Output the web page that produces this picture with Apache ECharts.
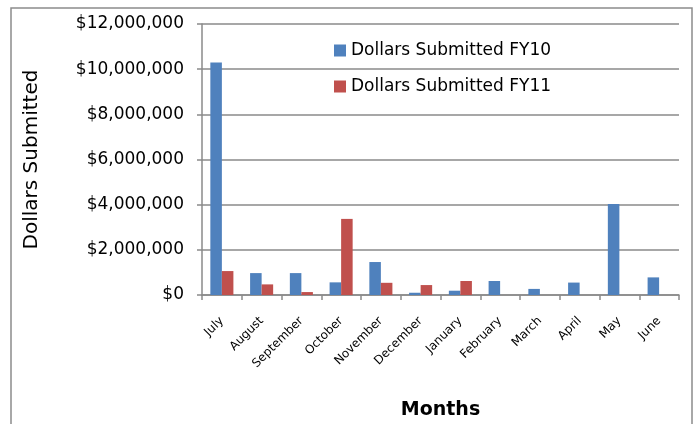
<!DOCTYPE html>
<html>
<head>
<meta charset="utf-8">
<script src="https://cdn.jsdelivr.net/npm/echarts@6/dist/echarts.min.js"></script>
<style>
  html, body { margin: 0; padding: 0; background: #fff; }
  #chart { width: 696px; height: 424px; }
</style>
</head>
<body>
<div id="chart"></div>
<script>
// months of the fiscal year
const months = ['July', 'August', 'September', 'October', 'November', 'December',
  'January', 'February', 'March', 'April', 'May', 'June'];

// dollars submitted
const fy10 = [10300000, 970000, 970000, 560000, 1460000, 100000,
  190000, 620000, 270000, 550000, 4030000, 780000];
const fy11 = [1060000, 470000, 130000, 3370000, 540000, 440000,
  620000, 0, 0, 0, 0, 0];

const yTicks = { min: 0, max: 12000000, interval: 2000000 };

const font = 'DejaVu Sans';
const gray = '#8a8a8a';

const chart = echarts.init(document.getElementById('chart'));

const fmt = v => '$' + v.toLocaleString('en-US');

chart.setOption({
  animation: false,
  textStyle: { fontFamily: font, color: '#000' },
  graphic: [{
    type: 'rect',
    shape: { x: 11, y: 8, width: 681, height: 430 },
    style: { fill: 'none', stroke: '#8c8c8c', lineWidth: 1.5 },
    silent: true
  }],
  legend: {
    orient: 'vertical',
    left: 329,
    top: 37,
    itemWidth: 12,
    itemHeight: 12,
    itemGap: 19,
    icon: 'rect',
    textStyle: { fontFamily: font, fontSize: 17, color: '#000' },
    data: ['Dollars Submitted FY10', 'Dollars Submitted FY11']
  },
  grid: { left: 202, right: 17, top: 24, bottom: 129, outerBoundsMode: 'none', containLabel: false },
  xAxis: {
    type: 'category',
    data: months,
    name: 'Months',
    nameLocation: 'middle',
    nameGap: 106,
    nameTextStyle: { fontFamily: font, fontSize: 19, fontWeight: 'bold', color: '#000' },
    axisLine: { lineStyle: { color: gray, width: 1.5 } },
    axisTick: { show: true, length: 5, lineStyle: { color: gray, width: 1.5 } },
    axisLabel: { rotate: 45, margin: 24, fontSize: 12, color: '#000', interval: 0 }
  },
  yAxis: {
    type: 'value',
    min: yTicks.min,
    max: yTicks.max,
    interval: yTicks.interval,
    name: 'Dollars Submitted',
    nameLocation: 'middle',
    nameGap: 160,
    nameTextStyle: { fontFamily: font, fontSize: 20, color: '#000' },
    axisLine: { show: true, lineStyle: { color: gray, width: 1.5 } },
    axisTick: { show: true, length: 5, lineStyle: { color: gray, width: 1.5 } },
    axisLabel: { formatter: fmt, fontSize: 17, margin: 18, color: '#000' },
    splitLine: { lineStyle: { color: gray, width: 1.5 } }
  },
  series: [
    {
      name: 'Dollars Submitted FY10',
      type: 'bar',
      data: fy10,
      barGap: '0%',
      barCategoryGap: '42%',
      itemStyle: { color: '#4F81BD' }
    },
    {
      name: 'Dollars Submitted FY11',
      type: 'bar',
      data: fy11,
      barGap: '0%',
      barCategoryGap: '42%',
      itemStyle: { color: '#C0504D' }
    }
  ]
});
</script>
</body>
</html>
